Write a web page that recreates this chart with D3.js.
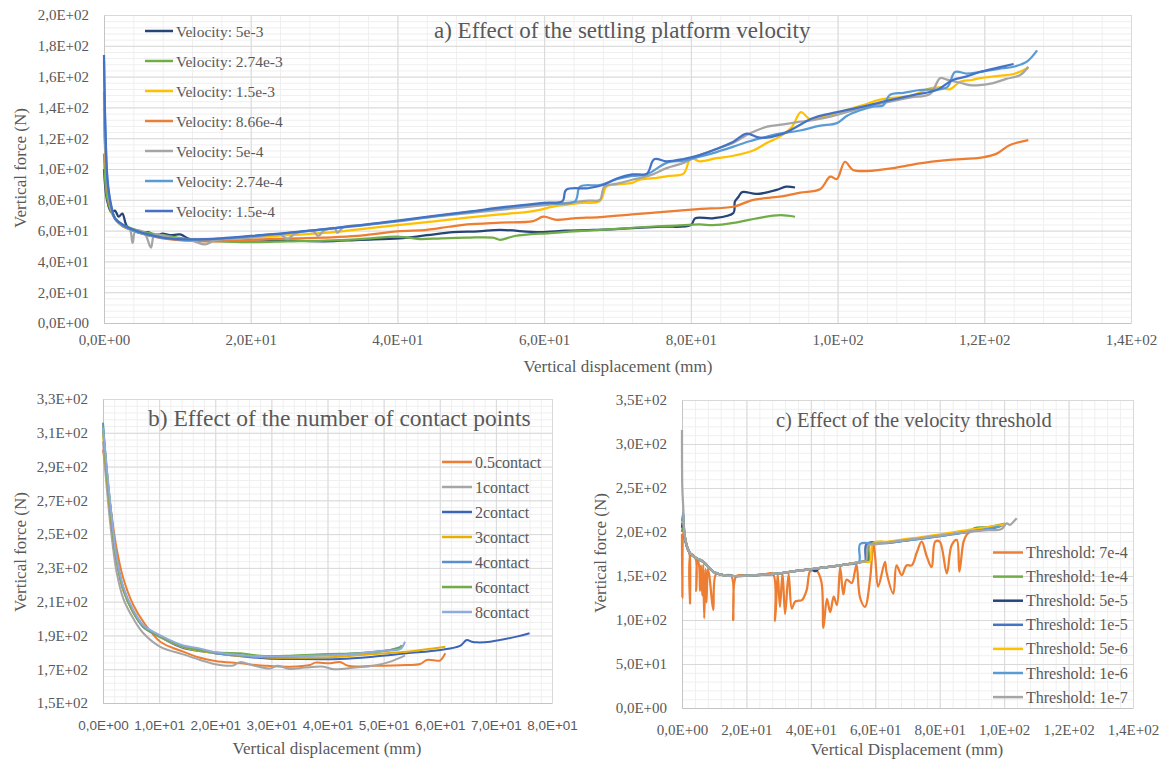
<!DOCTYPE html>
<html>
<head>
<meta charset="utf-8">
<script src="https://cdn.jsdelivr.net/npm/d3@7"></script>
<style>
  html, body { margin: 0; padding: 0; background: #fff; }
  svg { display: block; }
</style>
</head>
<body>
<svg id="chart" width="1168" height="760"></svg>
<script>
// ---- a) settling platform velocity ----
const velLabels = ['Velocity: 5e-3', 'Velocity: 2.74e-3', 'Velocity: 1.5e-3', 'Velocity: 8.66e-4',
  'Velocity: 5e-4', 'Velocity: 2.74e-4', 'Velocity: 1.5e-4'];
const velColors = ['#264478', '#70AD47', '#FFC000', '#ED7D31', '#A5A5A5', '#5B9BD5', '#4472C4'];

const vel5e3 = [[0,100],[0.4,80],[1,72],[1.5,73],[2,69],[2.5,71],[3.1,63],[4,60],[5,58.5],[6,59],[7,57],
  [8,58],[9,57],[10.4,57.5],[11.7,54.5],[15,53.5],[20,52.8],[25,53.5],[30,53],[35,54],[40.3,55],[44,57],
  [47.6,59],[51,59.5],[54,60.4],[59.4,59],[63,60],[66.7,60.4],[72,61.6],[76,62.5],[80,63.6],[80.6,68],
  [83,68],[85.8,71.4],[86,78.8],[86.5,82],[87,85],[89,83.8],[91.7,86.4],[93,88.5],[94.2,88]];
const vel274e3 = [[0,110],[0.4,82],[1,72],[1.5,68],[2.5,64],[4,61],[6,58.5],[8,57],[10,55.5],[13,53.5],
  [16,53],[20,52.5],[25,53],[30,53.5],[35,54.5],[40.3,56],[43,54.5],[46,55],[49.5,55.4],[53,55.4],[54,54],
  [56,56.5],[60.8,58.4],[64,59.5],[67.6,60.4],[71,61.5],[74.4,62.5],[78,63.3],[81.2,64],[83,63.5],
  [85.8,65],[89,68],[92.2,70],[94.2,69]];
const vel15e3 = [[0,145],[0.3,100],[0.8,78],[1.5,68],[2.5,63],[4,60],[6,57],[8,55.5],[11,54],[15,54.5],
  [20,55.5],[25,57],[30,58.5],[35,61],[40,63.6],[45,66],[49.5,68.4],[54,70.5],[58.5,72.7],[61.7,76],
  [65,78],[67.6,79.2],[68.5,88.5],[70,90],[72,91],[73,93],[74.9,94],[77,95.5],[79,97],[80,107],[81.2,105],
  [83.5,107],[85.8,108.6],[88.5,112],[90.4,117],[92.1,121],[93.8,127.5],[95,137],[96.2,132.5],[98,134],
  [101,138],[103.5,141.5],[105.8,145],[110.3,148],[112.6,152.4],[114,153],[115.3,151.7],[116.7,156.7],
  [118.3,157.8],[119.4,159],[122,160.5],[124,161.7],[126,165.8]];
const vel866e4 = [[0,140],[0.3,98],[0.8,77],[1.5,68],[2.5,63],[4,60],[6,57],[8,55],[11,53.5],[15,53],
  [20,54],[25,54.8],[30,55.5],[34.5,56.5],[40,59.5],[44,60.5],[47,62.5],[49.5,64],[54,65.2],[58.5,66.2],
  [59.9,69],[61.7,67],[64,68],[67.6,68.8],[72,70.5],[76.7,72.3],[81,74],[85.8,75.5],[88.5,80],[92.1,82],
  [94.9,84.6],[97.6,86.8],[99,95],[99.9,93.5],[101,104.7],[102.1,99.4],[104,98.7],[108,100.9],
  [111.2,103.7],[114.9,105.8],[119.8,107.6],[121.7,110],[123.5,115.6],[126,118.8]];
const vel5e4 = [[0,150],[0.3,100],[0.8,78],[1.5,68],[2.5,63],[3.5,61],[3.9,52],[4.3,60],[5.5,58.5],
  [6.4,49],[6.9,57.5],[9,55.5],[12,53.5],[13.8,51],[15,53.5],[20,55.5],[24,57.5],[25,54.5],[26,58],
  [28.5,59.5],[29.2,56.5],[30,60],[31.5,61.5],[31.8,58.5],[32.6,62],[35,63.5],[40,66],[45,69],[50,71.5],
  [55,74],[60,76.5],[63,78],[66,79.5],[67.6,80],[68.2,88.5],[70,90.5],[72,93],[74.5,96],[76.7,100.6],
  [79,104],[81.2,109],[83.5,113],[85.8,117],[88,123],[90.4,127.5],[92.6,129],[94.9,130.7],[96.6,131.8],
  [99,134],[101.3,137],[104,140.5],[107.1,143.7],[110,146.5],[112.6,148.7],[114,159],[114.9,158],
  [116.7,156],[118,154.5],[119.4,154.5],[121.2,155.8],[123,158.5],[124.9,161],[126,166.4]];
const vel274e4 = [[0,170],[0.2,122],[0.5,90],[1,75],[1.5,67.5],[2.5,63.5],[4,60],[6,57],[8,55.3],[11,54],
  [14,54.3],[20,56.3],[25,58.3],[30,60.8],[35,63.3],[40,66.2],[45,69.2],[50,72.2],[55,75],[60,77.6],
  [64.2,79],[64.9,88.5],[67.6,89.6],[70,93.5],[72,95.5],[74,96.5],[76.7,104],[79,105.5],[81.2,108],
  [83.5,111],[85.8,114.5],[88,118],[90.4,121],[92.1,123],[94.9,125],[97.5,128],[99.9,129.8],[101.3,134.6],
  [103,138],[104.8,140.5],[106.2,141.2],[107.1,148],[109,149.5],[111.2,151.3],[114.9,153],[116,163],
  [117.6,162],[119.4,163],[122,165],[124,166.4],[125.8,169.7],[127.2,177]];
const vel15e4 = [[0,174],[0.2,125],[0.5,92],[1,76],[1.5,68],[2.5,64],[4,60.5],[6,57.5],[8,55.5],
  [11,54.3],[14,54.5],[20,56.5],[25,58.5],[30,61],[35,63.5],[40,66.5],[45,69.5],[50,72.5],[55,75.5],
  [60,78],[62.5,79.2],[63,86.5],[66,87.5],[68,89.6],[70,94],[72,96.5],[74,97],[75,106.3],[76.7,105],
  [79,106.5],[81.2,109],[83.5,113],[85.8,117.7],[87.6,123],[89.4,120.3],[92.6,123],[96.6,133],[99,136],
  [103.5,140.5],[107,144.5],[110.3,148],[113.5,151.3],[115.7,157.8],[117.5,160],[119.4,163],[122,166],
  [124,168.2]];
const velSeries = [vel5e3, vel274e3, vel15e3, vel866e4, vel5e4, vel274e4, vel15e4];

// ---- b) number of contact points ----
const contactLabels = ['0.5contact', '1contact', '2contact', '3contact', '4contact', '6contact', '8contact'];
const contactColors = ['#ED7D31', '#A5A5A5', '#3B64B8', '#E8AE00', '#5B8FCB', '#70AD47', '#8FAADC'];

const c05 = [[0,300],[0.6,285],[1.5,262],[2.4,242],[3.6,224],[5.4,208],[7.2,198],[10.2,186.3],[14.3,180.4],
  [17.3,176.8],[20,174.9],[24.4,173.5],[29.2,172],[33.3,171.5],[36.9,172.5],[37.8,173.9],[40.5,173.5],
  [42.2,174.3],[43.7,172],[48.1,172],[54.1,172.5],[56.5,173.1],[57.7,175.5],[59.5,175],[60.1,175.2],
  [61,179.4]];
const c1 = [[0,305],[0.6,280],[1.5,250],[2.4,228],[3.6,212],[5.4,200],[7.2,191.3],[10.2,183.3],
  [14.3,178.8],[17.3,175.5],[20,173],[23.2,172.2],[24.4,174.2],[26.8,172.2],[29.8,170.4],[31,172],
  [33.3,170.2],[36,171],[39.3,171.5],[41.1,170],[45,171],[48.2,172],[51.2,174.5],[53.8,178]];
const c2 = [[0,312],[0.6,288],[1.5,258],[2.4,235],[3.6,217],[5.4,203.5],[7.2,195],[10.2,189],[14.3,182.5],
  [20,179.5],[25,177.5],[29.2,176.3],[33.3,176.1],[42.2,176.1],[48.1,177.4],[54.1,179.4],[60.1,181.4],
  [63.6,183.8],[64.8,187.3],[65.7,186.3],[66.6,185.9],[69,186.3],[73.7,189.3],[76,191.3]];
const c3 = [[0,310],[0.6,287],[1.5,258],[2.4,235],[3.6,217],[5.4,203.5],[7.2,195],[10.2,189],[14.3,183],
  [20,179.5],[25,177.8],[29.2,177],[33.3,176.8],[42.2,177.4],[48.1,179],[54.1,180.4],[61,183.3]];
const c4 = [[0,316],[0.65,289],[1.55,259.5],[2.4,236],[3.6,218],[5.4,204],[7.2,195],[10.2,189.3],
  [14.3,183.3],[17,182],[20,179.4],[25,178],[29.2,177.3],[33.3,177.5],[40,178.5],[45.2,179.5],
  [51.2,181.4],[53.5,183.8]];
const c6 = [[0,314],[0.65,288],[1.55,259],[2.4,236],[3.6,218],[5.4,204],[7.2,195.5],[10.2,189.5],
  [14.3,183.5],[20,180],[24.5,179.5],[28,178],[33.3,178],[40,179],[45.2,179.4],[51.2,181.4],[52.9,182.6],
  [53.2,184.4]];
const c8 = [[0,313],[0.65,290],[1.55,260],[2.4,237],[3.6,219],[5.4,205],[7.2,196],[10.2,190],[14.3,184],
  [17,182.5],[20,180],[25,178.2],[29.2,177.5],[33.3,177.6],[40,178.2],[45,179.2],[50,181],[53,182],
  [53.8,186.3]];
const contactSeries = [c05, c1, c2, c3, c4, c6, c8];

// ---- c) velocity threshold ----
const thrLabels = ['Threshold: 7e-4', 'Threshold: 1e-4', 'Threshold: 5e-5', 'Threshold: 1e-5',
  'Threshold: 5e-6', 'Threshold: 1e-6', 'Threshold: 1e-7'];
const thrColors = ['#ED7D31', '#70AD47', '#264478', '#4472C4', '#FFC000', '#5B9BD5', '#A5A5A5'];

const t7e4 = [[0,198],[0.1,125],[0.4,200],[0.7,196],[1.5,184],[2.3,176.5],[2.5,119],[2.7,175],[4.2,170],
  [4.4,133],[4.7,169.5],[5.3,162],[5.6,133],[5.9,162],[6.3,128],[6.6,163],[6.9,102],[7.3,158],[7.6,120],
  [8.0,158],[8.5,150],[9.7,111.5],[10.6,152],[12.8,151],[15.3,150],[15.9,100],[16.9,150],[20,150.4],
  [25,151.5],[28.2,152.5],[28.9,99],[29.7,152],[30.4,115],[31.2,153],[32,107],[33.1,152],[34.1,113],
  [35.1,121],[36.3,122],[37.2,122.5],[38.7,134],[39.7,155],[40.8,157],[41.8,156],[43.3,143],[43.9,91],
  [45,124],[46,109],[47.1,126.5],[48.1,117],[49.1,160],[50.1,129],[51.1,146],[52.7,142],[53.7,156],
  [54.2,163],[55.3,125],[56.8,115],[58.4,147],[59.4,188],[60,170],[60.9,138],[63,166],[63.5,154],
  [65.6,130],[66.6,162],[68.2,151],[69.7,162],[71.3,162],[72.9,177],[74.4,189],[76,172],[77.5,160],
  [78.6,189],[80,189],[82.2,153],[83.7,185],[85.3,191],[86.1,155],[87.4,189],[88.4,197],[89.4,200],
  [91,205]];
const t1e4 = [[0,200],[0.4,212],[0.7,198],[1.45,184],[2.5,175.5],[4.6,170],[6.6,166],[8.2,160.5],
  [9.7,154.8],[12.8,151],[15.9,150],[20.1,150.4],[25,151.5],[30.4,153],[35,155.5],[40.8,158],[45,160],
  [51.1,163.3],[56.3,166.3],[57.9,167],[58.3,187],[64,188.5],[68.7,190.8],[74,193.3],[79.1,196],
  [84,198.5],[89.4,201.5],[91.5,205],[95,205.5],[100.3,209.5]];
const t5e5 = [[0,205],[0.4,215],[0.7,199],[1.45,184.5],[2.5,175.6],[4.6,170],[6.6,166.2],[8.2,160.5],
  [9.7,154.8],[12.8,151],[15.9,150],[20.1,150.4],[25,151.5],[30.4,153],[35,155.5],[40,157.5],[41.5,155.5],
  [42.6,159],[45,160],[51.1,163.3],[56.3,166.3],[57.4,167],[57.8,186.5],[64,188],[68.7,190.3],[74,193],
  [79.1,195.5],[84,198],[89.4,200.8],[95,203.5],[99,207]];
const t1e5 = [[0,208],[0.4,218],[0.7,199],[1.45,184.5],[2.5,175.6],[4.6,170],[6.6,166.2],[8.2,160.5],
  [9.7,154.8],[12.8,151],[15.9,150],[20.1,150.4],[25,151.5],[30.4,153],[35,155.5],[40.8,158],[45,160],
  [51.1,163.3],[56.3,166.3],[56.9,167],[57.3,186.5],[64,187.5],[68.7,189.8],[74,192.5],[79.1,195],
  [84,197.5],[89.4,201],[91,204],[95,205],[99.5,207.5]];
const t5e6 = [[0,210],[0.4,220],[0.7,200],[1.45,185],[2.5,175.8],[4.6,170],[6.6,166.3],[8.2,160.6],
  [9.7,154.9],[12.8,151.1],[15.9,150],[20.1,150.4],[25,151.5],[30.4,153],[35,155.5],[40.8,158],[45,160],
  [51.1,163.3],[56.3,166.3],[58.4,166.5],[59.3,187.5],[64,189],[68.7,191.5],[74,194],[79.1,196.8],
  [84,199.5],[89.4,202.8],[95,205.5],[100.3,208.6]];
const t1e6 = [[0,212],[0.4,222],[0.7,200],[1.45,185],[2.5,175.8],[4.6,170],[6.6,166.3],[8.2,160.6],
  [9.7,154.9],[12.8,151.1],[15.9,150],[20.1,150.4],[25,151.5],[30.4,153],[35,155.5],[40.8,158],[45,160],
  [51.1,163.3],[54.9,165.5],[55.3,186.4],[60,186.6],[64,187.5],[68.7,189.8],[74,192.3],[79.1,194.8],
  [84,197.5],[89.4,200.5],[95,203.5],[98.5,206]];
const t1e7 = [[0,316],[0.1,250],[0.4,227],[0.7,200],[1.45,185],[2.5,175.8],[4.6,170],[6.6,166.3],
  [8.2,160.6],[9.7,154.9],[12.8,151.1],[15.9,150],[20.1,150.4],[25,151.5],[30.4,153],[35,155.5],
  [40.8,158],[45,160],[51.1,163.3],[56.3,166.3],[57.2,167],[57.8,185],[60,186],[64,188.2],[68.7,190.5],
  [74,193],[79.1,195.5],[84,198],[89.4,200.5],[95,202],[99.2,203.4],[100.8,209.9],[101.8,208],
  [102.9,211.7],[103.9,215.6]];
const thrSeries = [t7e4, t1e4, t5e5, t1e5, t5e6, t1e6, t1e7];

// ---- helpers ----
const svg = d3.select('#chart');
svg.append('rect').attr('width', 1168).attr('height', 760).attr('fill', '#fff');

const SERIF = '"Liberation Serif", "Times New Roman", serif';
const SANS = '"Liberation Sans", Arial, sans-serif';
const TXT = '#595959';

function fmtE(v) {
  if (v === 0) return '0,0E+00';
  const e = Math.floor(Math.log10(v) + 1e-9);
  const m = v / Math.pow(10, e);
  return m.toFixed(1).replace('.', ',') + 'E+' + String(e).padStart(2, '0');
}

function drawPanel(o) {
  const g = svg.append('g');
  const x = d3.scaleLinear().domain(o.xDom).range([o.left, o.right]);
  const y = d3.scaleLinear().domain(o.yDom).range([o.bottom, o.top]);
  const h = o.bottom - o.top, w = o.right - o.left;
  const xMinor = d3.range(o.xDom[0], o.xDom[1] + 1e-6, o.xMinor);
  const yMinor = d3.range(o.yDom[0], o.yDom[1] + 1e-6, o.yMinor);
  const xMajor = d3.range(o.xDom[0], o.xDom[1] + 1e-6, o.xStep);
  const yMajor = d3.range(o.yDom[0], o.yDom[1] + 1e-6, o.yStep);

  // gridlines
  const grid = (axis, vals, tr, size, color) => {
    const gg = g.append('g').attr('transform', tr)
      .call(axis.tickValues(vals).tickSize(size).tickFormat(''));
    gg.select('.domain').remove();
    gg.selectAll('line').attr('stroke', color).attr('stroke-width', 1);
  };
  grid(d3.axisBottom(x), xMinor, `translate(0,${o.bottom})`, -h, '#efefef');
  grid(d3.axisLeft(y), yMinor, `translate(${o.left},0)`, -w, '#efefef');
  grid(d3.axisBottom(x), xMajor, `translate(0,${o.bottom})`, -h, '#d9d9d9');
  grid(d3.axisLeft(y), yMajor, `translate(${o.left},0)`, -w, '#d9d9d9');

  // axis labels
  const ax = g.append('g').attr('transform', `translate(0,${o.bottom})`)
    .call(d3.axisBottom(x).tickValues(xMajor).tickSize(0).tickPadding(o.xPad).tickFormat(fmtE));
  ax.select('.domain').attr('stroke', '#c4c4c4');
  ax.selectAll('text').attr('fill', TXT).style('font-family', o.xFont).style('font-size', o.xFontSize + 'px');
  const ay = g.append('g').attr('transform', `translate(${o.left},0)`)
    .call(d3.axisLeft(y).tickValues(yMajor).tickSize(0).tickPadding(15).tickFormat(fmtE));
  ay.select('.domain').attr('stroke', '#c4c4c4');
  ay.selectAll('text').attr('fill', TXT).style('font-family', SERIF).style('font-size', '15px');

  // axis titles
  g.append('text').attr('x', o.xTitle[0]).attr('y', o.xTitle[1]).attr('text-anchor', 'middle')
    .attr('fill', TXT).style('font-family', SERIF).style('font-size', '17px').text(o.xLabel);
  g.append('text').attr('transform', `translate(${o.yTitle[0]},${o.yTitle[1]}) rotate(-90)`)
    .attr('text-anchor', 'middle').attr('dominant-baseline', 'central')
    .attr('fill', TXT).style('font-family', SERIF).style('font-size', '17px').text(o.yLabel);

  // chart title
  g.append('text').attr('x', o.title[0]).attr('y', o.title[1]).attr('fill', TXT)
    .style('font-family', SERIF).style('font-size', o.titleSize + 'px').text(o.titleText);

  // series
  const line = d3.line().x(d => x(d[0])).y(d => y(d[1])).curve(d3.curveCatmullRom.alpha(0.5));
  o.series.forEach((s, i) => {
    g.append('path').datum(s).attr('d', line).attr('fill', 'none')
      .attr('stroke', o.colors[i]).attr('stroke-width', o.lw).attr('stroke-linejoin', 'round');
  });

  // legend
  const lg = g.append('g');
  o.labels.forEach((lab, i) => {
    const yy = o.legend.y0 + i * o.legend.dy;
    lg.append('line').attr('x1', o.legend.x0).attr('x2', o.legend.x1).attr('y1', yy).attr('y2', yy)
      .attr('stroke', o.colors[i]).attr('stroke-width', 2.5);
    lg.append('text').attr('x', o.legend.x1 + 3).attr('y', yy).attr('dominant-baseline', 'central')
      .attr('fill', TXT).style('font-family', SERIF).style('font-size', o.legend.size + 'px').text(lab);
  });
}

drawPanel({
  left: 104, right: 1131, top: 15, bottom: 323,
  xDom: [0, 140], xStep: 20, xMinor: 4, yDom: [0, 200], yStep: 20, yMinor: 4,
  xPad: 11, xFont: SERIF, xFontSize: 15,
  xLabel: 'Vertical displacement (mm)', xTitle: [618, 372],
  yLabel: 'Vertical force (N)', yTitle: [20, 168],
  titleText: 'a) Effect of the settling platform velocity', title: [434, 38], titleSize: 23,
  series: velSeries, colors: velColors, labels: velLabels, lw: 2.25,
  legend: { x0: 145, x1: 173, y0: 31, dy: 30, size: 15.5 }
});

drawPanel({
  left: 103, right: 552, top: 399, bottom: 703,
  xDom: [0, 80], xStep: 10, xMinor: 2, yDom: [150, 330], yStep: 20, yMinor: 4,
  xPad: 17, xFont: SANS, xFontSize: 13.5,
  xLabel: 'Vertical displacement (mm)', xTitle: [327, 754],
  yLabel: 'Vertical force (N)', yTitle: [20, 552],
  titleText: 'b) Effect of the number of contact points', title: [148, 426], titleSize: 23.5,
  series: contactSeries, colors: contactColors, labels: contactLabels, lw: 2,
  legend: { x0: 442, x1: 472, y0: 462, dy: 25, size: 16 }
});

drawPanel({
  left: 682, right: 1133, top: 400, bottom: 708,
  xDom: [0, 140], xStep: 20, xMinor: 4, yDom: [0, 350], yStep: 50, yMinor: 10,
  xPad: 16, xFont: SERIF, xFontSize: 15,
  xLabel: 'Vertical Displacement (mm)', xTitle: [907, 755],
  yLabel: 'Vertical force (N)', yTitle: [600, 553],
  titleText: 'c) Effect of the velocity threshold', title: [776, 427], titleSize: 20.5,
  series: thrSeries, colors: thrColors, labels: thrLabels, lw: 2.25,
  legend: { x0: 993, x1: 1023, y0: 552.5, dy: 24.1, size: 16 }
});
</script>
</body>
</html>
